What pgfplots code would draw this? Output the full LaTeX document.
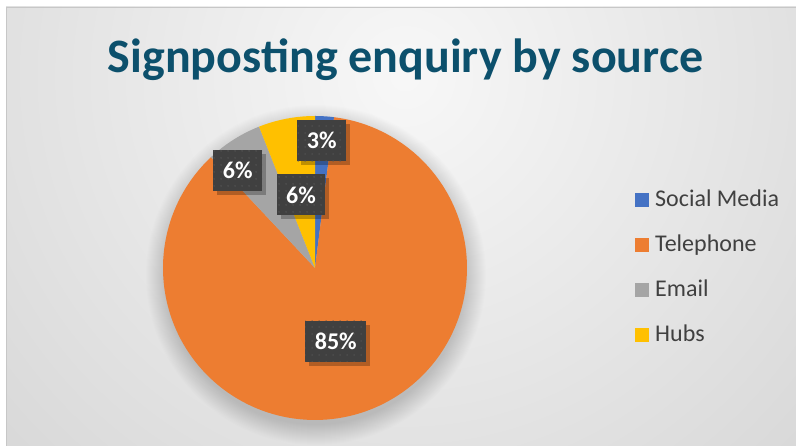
\documentclass[border=0pt]{standalone}
\usepackage{pgfplots}
\pgfplotsset{compat=1.18}
\usepackage{fontspec}
\setmainfont{Carlito}
\usetikzlibrary{shadows,patterns.meta}
\definecolor{cblue}{HTML}{4472C4}
\definecolor{corange}{HTML}{ED7D31}
\definecolor{cgray}{HTML}{A5A5A5}
\definecolor{cyellow}{HTML}{FFC000}
\definecolor{ctitle}{RGB}{12,80,108}
\definecolor{ctext}{HTML}{404040}
\definecolor{clbl}{HTML}{404040}
\definecolor{cdot}{HTML}{565656}
\tikzset{lbl/.style={fill=clbl, text=white, font=\bfseries\fontsize{24}{28}\selectfont,
    minimum height=41pt, inner xsep=9.5pt, inner ysep=0pt,
    drop shadow={shadow xshift=4pt, shadow yshift=-4pt, opacity=0.25, fill=black},
    postaction={pattern={Dots[distance=6.5pt, radius=0.8pt]}, pattern color=cdot}}}
\begin{document}
\begin{tikzpicture}[x=1pt,y=1pt]
\useasboundingbox (0,0) rectangle (796,446);
\fill[white] (0,0) rectangle (796,446);
\begin{scope}
\clip (6,0) rectangle (796,439);
\shade[inner color=white!97!black, outer color=black!27] (405,370) circle (1080);
\end{scope}
\draw[black!22, line width=0.8pt] (6,-1) -- (6,439) -- (797,439);
% soft shadow of the pie
\foreach \r in {150,151,...,170}{
  \fill[black, opacity=0.009] (316,171) circle (\r);
}
\begin{axis}[
  at={(0,0)}, anchor=south west,
  scale only axis, width=796pt, height=446pt,
  xmin=0, xmax=796, ymin=0, ymax=446,
  hide axis, clip=false,
  legend style={at={(axis cs:635,177.6)}, anchor=west, draw=none, fill=none,
    inner sep=0pt, font=\fontsize{24}{28}\selectfont, text=ctext,
    row sep=23pt, nodes={inner xsep=3pt, inner ysep=0pt, text height=17pt, text depth=5pt},
    cells={anchor=west}},
  legend image code/.code={\fill[#1] (-3pt,-6pt) rectangle (11pt,8pt);},
]
% slices: percentage ranges, clockwise from 12 o'clock
\addplot[fill=cblue, draw=none, domain=0:2, samples=8, variable=\t]
  ({315+152*cos(90-3.6*\t)}, {178+152*sin(90-3.6*\t)}) -- (axis cs:315,178) -- cycle;
\addlegendentry{\hspace{3pt}Social Media}
\addplot[fill=corange, draw=none, domain=2:88, samples=150, variable=\t]
  ({315+152*cos(90-3.6*\t)}, {178+152*sin(90-3.6*\t)}) -- (axis cs:315,178) -- cycle;
\addlegendentry{\hspace{3pt}Telephone}
\addplot[fill=cgray, draw=none, domain=88:94, samples=15, variable=\t]
  ({315+152*cos(90-3.6*\t)}, {178+152*sin(90-3.6*\t)}) -- (axis cs:315,178) -- cycle;
\addlegendentry{\hspace{3pt}Email}
\addplot[fill=cyellow, draw=none, domain=94:100, samples=15, variable=\t]
  ({315+152*cos(90-3.6*\t)}, {178+152*sin(90-3.6*\t)}) -- (axis cs:315,178) -- cycle;
\addlegendentry{\hspace{3pt}Hubs}
% data labels
\node[lbl] at (axis cs:321.7,305.2) {3\%};
\node[lbl] at (axis cs:335.8,104.7) {85\%};
\node[lbl] at (axis cs:237.7,275.7) {6\%};
\node[lbl] at (axis cs:301,251) {6\%};
% title
\node[anchor=base, text=ctitle, font=\bfseries\fontsize{48}{56}\selectfont, inner sep=0pt]
  at (axis cs:405.5,373) {Signposting enquiry by source};
\end{axis}
\end{tikzpicture}
\end{document}
